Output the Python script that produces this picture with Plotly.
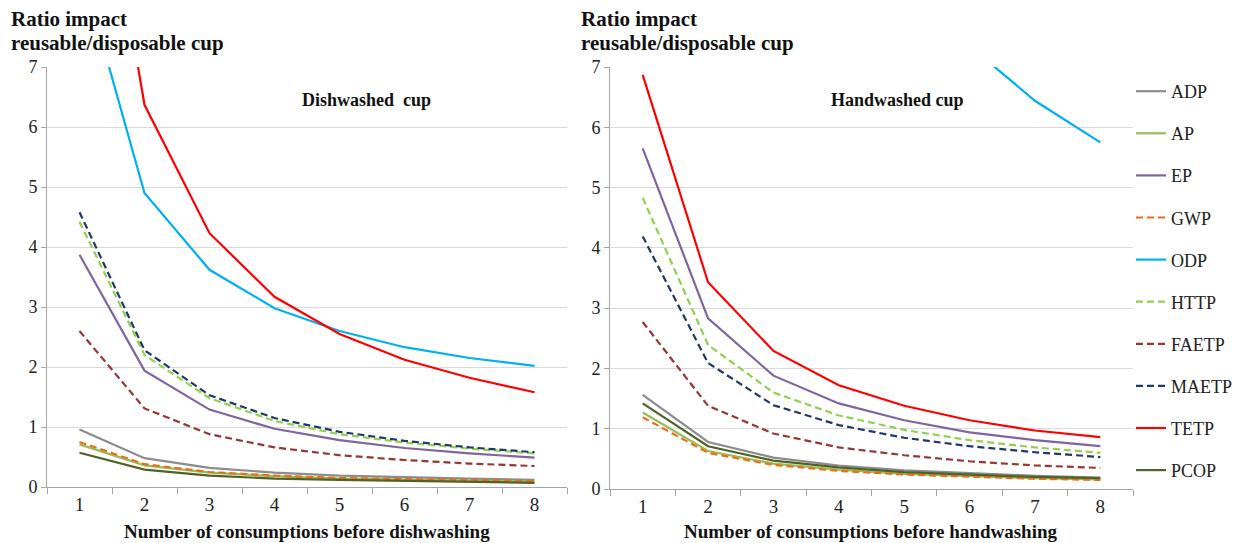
import plotly.graph_objects as go

x_labels = ["1", "2", "3", "4", "5", "6", "7", "8"]
series_names = ["ADP", "AP", "EP", "GWP", "ODP", "HTTP", "FAETP", "MAETP", "TETP", "PCOP"]

# Dishwashed cup
dish_ADP = [0.96, 0.48, 0.32, 0.24, 0.19, 0.16, 0.14, 0.12]
dish_AP = [0.71, 0.36, 0.24, 0.18, 0.14, 0.12, 0.10, 0.09]
dish_EP = [3.87, 1.94, 1.29, 0.97, 0.78, 0.65, 0.56, 0.49]
dish_GWP = [0.75, 0.38, 0.25, 0.19, 0.15, 0.13, 0.11, 0.10]
dish_ODP = [8.75, 4.90, 3.62, 2.98, 2.60, 2.33, 2.15, 2.02]
dish_HTTP = [4.42, 2.20, 1.48, 1.10, 0.88, 0.74, 0.64, 0.56]
dish_FAETP = [2.60, 1.31, 0.88, 0.66, 0.53, 0.45, 0.39, 0.35]
dish_MAETP = [4.58, 2.28, 1.53, 1.15, 0.92, 0.77, 0.66, 0.58]
dish_TETP = [12.7, 6.37, 4.23, 3.17, 2.55, 2.12, 1.82, 1.58]
dish_PCOP = [0.57, 0.29, 0.19, 0.14, 0.12, 0.10, 0.08, 0.07]

# Handwashed cup
hand_ADP = [1.56, 0.78, 0.52, 0.39, 0.31, 0.26, 0.22, 0.19]
hand_AP = [1.27, 0.63, 0.42, 0.32, 0.25, 0.21, 0.18, 0.16]
hand_EP = [5.65, 2.83, 1.88, 1.42, 1.14, 0.94, 0.81, 0.71]
hand_GWP = [1.19, 0.60, 0.40, 0.30, 0.24, 0.20, 0.17, 0.15]
hand_ODP = [39.5, 20.2, 13.8, 10.6, 8.64, 7.35, 6.44, 5.75]
hand_HTTP = [4.83, 2.39, 1.60, 1.22, 0.98, 0.81, 0.69, 0.60]
hand_FAETP = [2.77, 1.38, 0.92, 0.69, 0.56, 0.46, 0.39, 0.35]
hand_MAETP = [4.19, 2.09, 1.39, 1.06, 0.85, 0.71, 0.61, 0.53]
hand_TETP = [6.87, 3.43, 2.29, 1.72, 1.38, 1.14, 0.97, 0.86]
hand_PCOP = [1.42, 0.71, 0.47, 0.36, 0.28, 0.24, 0.20, 0.18]

dish = [dish_ADP, dish_AP, dish_EP, dish_GWP, dish_ODP, dish_HTTP, dish_FAETP, dish_MAETP, dish_TETP, dish_PCOP]
hand = [hand_ADP, hand_AP, hand_EP, hand_GWP, hand_ODP, hand_HTTP, hand_FAETP, hand_MAETP, hand_TETP, hand_PCOP]

colors = ["#8c8c8c", "#9bbb59", "#8064a2", "#e8701a", "#00b0f0", "#92d050", "#953735", "#1f3864", "#ff0000", "#4f6228"]
dashes = ["solid", "solid", "solid", "7px,4px", "solid", "7px,4px", "7px,4px", "7px,4px", "solid", "solid"]

W, H = 1235, 543
SERIF = "Liberation Serif"

fig = go.Figure()
for i, name in enumerate(series_names):
    fig.add_trace(go.Scatter(x=x_labels, y=dish[i], mode="lines", name=name,
                             line=dict(color=colors[i], width=2.2, dash=dashes[i]),
                             legendgroup=name, showlegend=True, xaxis="x", yaxis="y"))
for i, name in enumerate(series_names):
    fig.add_trace(go.Scatter(x=x_labels, y=hand[i], mode="lines", name=name,
                             line=dict(color=colors[i], width=2.2, dash=dashes[i]),
                             legendgroup=name, showlegend=False, xaxis="x2", yaxis="y2"))

def px_x(p):
    return p / W

def px_y(p):
    return 1 - p / H

xcommon = dict(type="category", tickson="boundaries", ticks="outside", ticklen=6,
               tickcolor="#a6a6a6", showline=True, linecolor="#a6a6a6", linewidth=1,
               showgrid=False, tickfont=dict(family=SERIF, size=19, color="#222"),
               range=[-0.5, 7.5], zeroline=False, automargin=False)
ycommon = dict(range=[0, 7], dtick=1, tick0=0, showgrid=True, gridcolor="#d9d9d9", gridwidth=1,
               showline=True, linecolor="#a6a6a6", linewidth=1, ticks="outside", ticklen=5,
               tickcolor="#a6a6a6", zeroline=False, automargin=False,
               tickfont=dict(family=SERIF, size=18, color="#222"))

fig.update_layout(
    width=W, height=H,
    margin=dict(l=0, r=0, t=0, b=0, pad=0, autoexpand=False),
    paper_bgcolor="white", plot_bgcolor="white",
    xaxis=dict(domain=[px_x(47), px_x(567)], anchor="y", **xcommon),
    yaxis=dict(domain=[px_y(487), px_y(67)], anchor="x", **ycommon),
    xaxis2=dict(domain=[px_x(610), px_x(1133)], anchor="y2", **xcommon),
    yaxis2=dict(domain=[px_y(489), px_y(67)], anchor="x2", **ycommon),
    legend=dict(x=px_x(1131), y=px_y(73), xanchor="left", yanchor="top",
                font=dict(family=SERIF, size=18, color="#222"),
                tracegroupgap=15.7, itemwidth=30, bgcolor="rgba(0,0,0,0)"),
    showlegend=True,
)

annos = [
    dict(text="<b>Ratio impact</b>", x=px_x(9), y=px_y(5), xanchor="left", yanchor="top",
         font=dict(family=SERIF, size=21, color="#111"), align="left"),
    dict(text="<b>reusable/disposable cup</b>", x=px_x(9), y=px_y(29), xanchor="left", yanchor="top",
         font=dict(family=SERIF, size=21, color="#111"), align="left"),
    dict(text="<b>Ratio impact</b>", x=px_x(579), y=px_y(5), xanchor="left", yanchor="top",
         font=dict(family=SERIF, size=21, color="#111"), align="left"),
    dict(text="<b>reusable/disposable cup</b>", x=px_x(579), y=px_y(29), xanchor="left", yanchor="top",
         font=dict(family=SERIF, size=21, color="#111"), align="left"),
    dict(text="<b>Dishwashed  cup</b>", x=px_x(366), y=px_y(100), xanchor="center", yanchor="middle",
         font=dict(family=SERIF, size=18, color="#111")),
    dict(text="<b>Handwashed cup</b>", x=px_x(897), y=px_y(100), xanchor="center", yanchor="middle",
         font=dict(family=SERIF, size=18, color="#111")),
    dict(text="<b>Number of consumptions before dishwashing</b>", x=px_x(307), y=px_y(531), xanchor="center", yanchor="middle",
         font=dict(family=SERIF, size=19, color="#111")),
    dict(text="<b>Number of consumptions before handwashing</b>", x=px_x(871), y=px_y(531), xanchor="center", yanchor="middle",
         font=dict(family=SERIF, size=19, color="#111")),
]
for a in annos:
    a.update(xref="paper", yref="paper", showarrow=False)
fig.update_layout(annotations=annos)

fig.write_html(
    "out.html",
    config={"displayModeBar": False},
    post_script="document.documentElement.style.overflow='hidden';"
                "document.body.style.margin='0';document.body.style.overflow='hidden';",
)
